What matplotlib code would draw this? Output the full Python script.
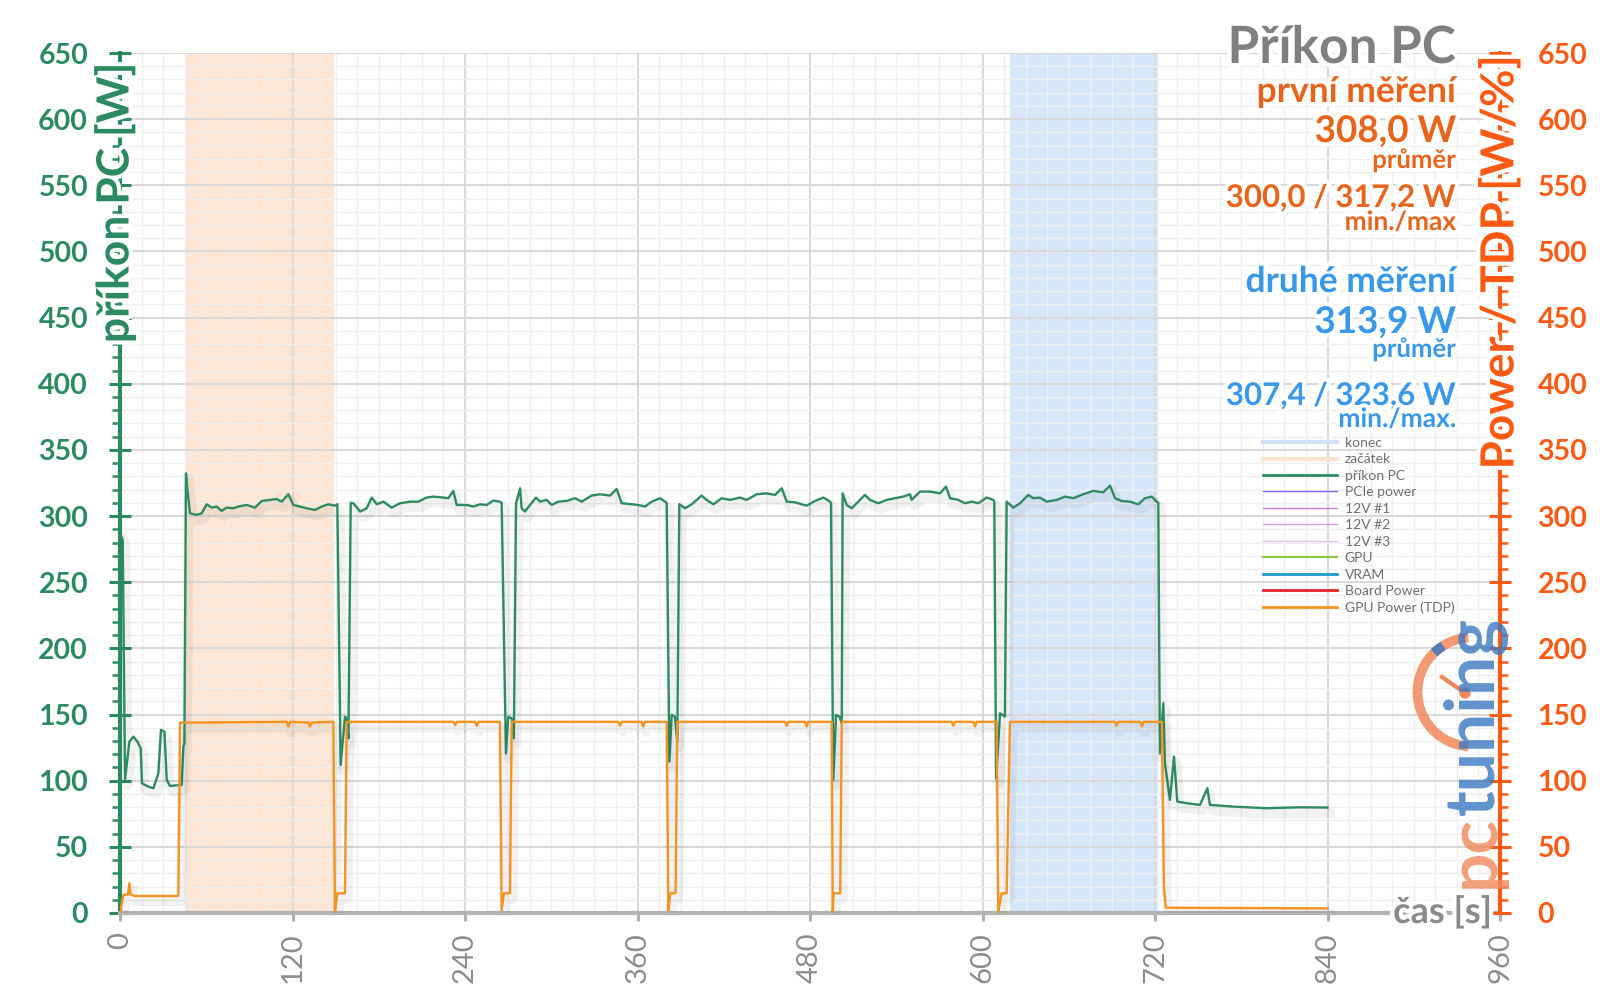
import matplotlib
matplotlib.use('Agg')
import matplotlib.pyplot as plt
import matplotlib.patheffects as pe
from matplotlib.patches import Arc, Circle
from matplotlib.lines import Line2D
from matplotlib.ticker import MultipleLocator

plt.rcParams['font.family'] = ['Lato', 'DejaVu Sans']

# příkon PC [W] (time in s)
pc_t = [0, 1.9, 3.5, 6.5, 9.3, 12.1, 14.4, 15.3, 19.7, 23.2, 26.7, 28.5, 30.9, 32.5, 34.8, 42.9, 44.1, 44.8,
        45.9, 46.9, 48.7, 53.3, 56.8, 60.3, 63.8, 67.2, 70.7, 74.2, 78.8, 82.3, 88.1, 93.9, 98.6, 104.3, 109,
        112.5, 117.1, 120.6, 125.2, 129.9, 135.7, 140.3, 144.9, 149.6, 151.2, 153.5, 156.5, 157.7, 158.9,
        160.5, 162.3, 167, 171.6, 175.1, 178.6, 183.2, 189, 194.8, 201.8, 207.5, 213.3, 218, 224.9, 228.4,
        231.9, 234.2, 241.2, 245.8, 250.5, 255.1, 259.7, 264.3, 265.5, 268.5, 270.1, 272.5, 274, 275.5,
        278.3, 279.4, 281.7, 285.2, 289.4, 292.2, 296.8, 300.3, 304.9, 310.7, 316.5, 321.2, 328.1, 333.9,
        340.9, 345.5, 349, 356, 360.6, 365.2, 369.9, 375.7, 379.1, 380.3, 382.2, 383.8, 386, 387.7, 389.1,
        393, 397.7, 404.6, 408.1, 412.8, 418.6, 424.4, 431.3, 436, 442.9, 449.9, 455.7, 460.3, 463.8,
        469.6, 474.2, 477.7, 483.5, 489.3, 493.9, 494.6, 496.2, 498.1, 500.5, 502.1, 502.7, 505.5, 509,
        513.6, 518.2, 521.7, 527.5, 533.3, 539.1, 544.9, 549.6, 550.7, 556.5, 563.5, 570.4, 574.6, 577.4,
        583.2, 587.8, 592.5, 597.1, 602.9, 607.5, 608.2, 609.5, 612.2, 615.6, 616.8, 621.4, 626.1, 631.9,
        635.4, 640, 644.6, 651.6, 657.4, 663.2, 670.1, 677.1, 684, 688.7, 692.2, 696.8, 702.6, 708.4, 713,
        717.7, 721.2, 722.3, 723.4, 725.8, 726.9, 730.4, 733.2, 735.5, 742, 751.3, 756.4, 758.2, 774.5,
        797.6, 820.8, 840]
pc_w = [287, 282, 100.6, 129.5, 133.3, 129.5, 124.5, 98, 95.5, 94.3, 105.6, 138.4, 137, 100.6, 96, 96.8, 125.8, 128,
        332.3, 320, 302.1, 300.9, 302.1, 308.9, 306.4, 307.2, 303.9, 306.4, 305.9, 307.2, 308.4, 306.4, 311.4,
        312.2, 312.9, 310.9, 316.5, 308.4, 307.2, 305.9, 304.6, 307.2, 308.9, 307.9, 309, 111.9, 148.4, 147,
        132, 310, 309.7, 303.4, 305.9, 314, 308.9, 310.9, 306.4, 309.7, 310.9, 310.9, 314, 314.7, 314, 313.5,
        319, 308.4, 308.4, 307.2, 308.9, 308.4, 311.7, 310.9, 310, 120.7, 148.4, 147, 132, 309.6,
        321, 305.9, 303.4, 308.4, 314, 310.9, 312.2, 308.4, 310.9, 311.4, 313.5, 310.9, 315.5, 316.5,
        315.5, 320.5, 309.7, 308.9, 308.4, 307.2, 310.9, 313.5, 310.9, 310, 114.4, 149.7, 148.4, 129.5, 309,
        305.9, 308.9, 315.5, 312.2, 308.9, 313.5, 312.2, 314, 312.2, 316.5, 317.2, 316, 321, 310.9,
        310.4, 308.9, 307.9, 311.4, 314, 310.9, 310, 100.6, 149.7, 148.4, 143.4, 317.2, 308.4, 305.9,
        310.9, 316, 312.2, 309.7, 312.2, 313.5, 314.7, 316.5, 312.2, 318.5, 318.5, 317.2, 322.3, 313.5,
        312.2, 309.7, 310.9, 309.7, 314, 312.2, 311, 101.8, 151, 148.4, 310.9, 306.4, 309.7, 316,
        313.5, 314, 310.9, 312.2, 314.7, 313.5, 316.5, 319, 318, 323, 313.5, 311.4, 310.9, 308.9, 313.5,
        314.7, 310.9, 310, 120.7, 158.5, 113, 85.5, 118.2, 84.2, 83, 81.7, 94.3, 81.7, 80.4,
        79.2, 79.9, 79.7]

# GPU Power (TDP) [W]
tdp_t = [0, 2.3, 5.5, 6.5, 7.4, 10, 40.6, 41.8, 116, 117.1, 118.5, 131, 132.2, 133.5, 148.4, 149.6, 151.2,
         156.5, 157.7, 232, 233.2, 234.5, 247, 248.2, 249.5, 264.3, 265.5, 267.1, 271.3, 272.5,
         346.6, 347.8, 349, 362.8, 364, 365.2, 380.3, 381.5, 382.8, 386.5, 387.7,
         462.6, 463.8, 465, 476.5, 477.7, 478.9, 495.1, 495.8, 496.5, 501, 502.1,
         578.5, 579.7, 580.9, 593.6, 594.8, 596, 609.8, 611, 613.3, 616.8, 619.1,
         692.1, 693.3, 694.5, 709.8, 711, 712.2, 724.8, 726.2, 727.5, 840]
tdp_w = [0, 13.6, 14, 22.5, 14, 12.9, 12.9, 143.9, 144.5, 141, 144.5, 144, 141, 144, 144.5, 1, 14.9,
         14.9, 144.5, 144.5, 142, 144.5, 144.5, 141.5, 144.5, 144.5, 2.3, 14.9, 14.9, 144.5,
         144.5, 141.5, 144.5, 144.5, 141, 144.5, 144.5, 2, 14.9, 14.9, 144.5,
         144.5, 141.5, 144.5, 144.5, 141, 144.5, 144.5, 1, 14.9, 14.9, 144.5,
         144.5, 141.5, 144.5, 144.5, 141, 144.5, 144.5, 0.5, 14.9, 14.9, 144.5,
         144.5, 141.5, 144.5, 144.5, 141, 144.5, 144.5, 20, 4, 3.5]

start_band = (45, 149)   # začátek
end_band = (619, 722)    # konec
x_ticks = [0, 120, 240, 360, 480, 600, 720, 840, 960]

GREEN = '#2b8a5f'
RED_OR = '#ff5a14'
TXT_OR = '#e8641b'
TXT_BL = '#3a98ea'
GRAY = '#808080'

fig = plt.figure(figsize=(16, 10.08), dpi=100)
ax = fig.add_axes([0.075, 0.09425, 0.8625, 0.85317])
ax2 = ax.twinx()

ax.axvspan(*start_band, color='#fde6d3', lw=0, zorder=0.2)
ax.axvspan(*end_band, color='#d7e7fa', lw=0, zorder=0.2)

shadow = [pe.SimpleLineShadow(offset=(2, -4), shadow_color='black', alpha=0.05, linewidth=7), pe.Normal()]
ax.plot(pc_t, pc_w, color='#2e8b62', lw=1.7, zorder=3, path_effects=shadow)
ax.plot(tdp_t, tdp_w, color='#f5931f', lw=1.7, zorder=4, path_effects=shadow)

ax.set_xlim(0, 960)
ax.set_ylim(0, 650)
ax2.set_ylim(0, 650)
ax.set_xticks(x_ticks)
ax.set_xticklabels([str(v) for v in x_ticks], rotation=90)
ax.xaxis.set_minor_locator(MultipleLocator(15))
for a in (ax, ax2):
    a.yaxis.set_major_locator(MultipleLocator(50))
    a.yaxis.set_minor_locator(MultipleLocator(10))

ax.set_axisbelow(True)
ax.grid(which='major', color='#d9d9d9', lw=1.5, zorder=0.5)
ax.grid(which='minor', color='#efefef', lw=1.0, zorder=0.5)

ax.tick_params(axis='x', which='major', direction='out', length=6, width=2.2, color='#b0b0b0',
               labelsize=21, labelcolor='#8c8c8c', pad=8)
ax.tick_params(axis='x', which='minor', length=0)
ax.tick_params(axis='y', which='major', direction='inout', length=16, width=2.2, color=GREEN,
               labelsize=20.5, labelcolor=GREEN, pad=15)
ax.tick_params(axis='y', which='minor', direction='out', length=6, width=1.8, color=GREEN)
ax2.tick_params(axis='y', which='major', direction='inout', length=16, width=2.2, color=RED_OR,
                labelsize=20.5, labelcolor=RED_OR, pad=19)
ax2.tick_params(axis='y', which='minor', direction='out', length=6, width=1.8, color=RED_OR)
for lab in ax.get_yticklabels() + ax2.get_yticklabels():
    lab.set_fontweight('bold')

for s in ('top', 'right'):
    ax.spines[s].set_visible(False)
for s in ('top', 'left', 'bottom'):
    ax2.spines[s].set_visible(False)
ax.spines['left'].set_color(GREEN)
ax.spines['left'].set_linewidth(3)
ax.spines['bottom'].set_color('#b3b3b3')
ax.spines['bottom'].set_linewidth(3)
ax2.spines['right'].set_color(RED_OR)
ax2.spines['right'].set_linewidth(3)

glow = [pe.withStroke(linewidth=6, foreground='white')]

# legend
leg_handles = [
    Line2D([], [], color='#cfe2f6', lw=3, label='konec'),
    Line2D([], [], color='#fde3cc', lw=3, label='začátek'),
    Line2D([], [], color='#2e8b62', lw=2, label='příkon PC'),
    Line2D([], [], color='#7b68ee', lw=1, label='PCIe power'),
    Line2D([], [], color='#c77dd8', lw=1, label='12V #1'),
    Line2D([], [], color='#d89ae3', lw=1, label='12V #2'),
    Line2D([], [], color='#e8c0f0', lw=1, label='12V #3'),
    Line2D([], [], color='#8cc63e', lw=1.5, label='GPU'),
    Line2D([], [], color='#1f9bc9', lw=2, label='VRAM'),
    Line2D([], [], color='#e8202a', lw=2, label='Board Power'),
    Line2D([], [], color='#f5931f', lw=2, label='GPU Power (TDP)'),
]
ax2.legend(handles=leg_handles, loc='upper left', bbox_to_anchor=(1263 / 1600, 1 - 437 / 1008),
           bbox_transform=fig.transFigure, frameon=False, fontsize=10, labelcolor='#6e6e6e',
           handlelength=5.3, handletextpad=0.58, labelspacing=0.32, borderpad=0, borderaxespad=0)

# axis labels
fig.text(115 / 1600, 1 - 62 / 1008, 'příkon PC [W]', rotation=90, ha='center', va='top',
         fontsize=32, fontweight='bold', color=GREEN, path_effects=glow)
fig.text(1500 / 1600, 1 - 55 / 1008, 'Power / TDP [W/%]', rotation=90, ha='center', va='top',
         fontsize=33, fontweight='bold', color=RED_OR, path_effects=glow)
fig.text(1492 / 1600, 1 - 923 / 1008, 'čas [s]', ha='right', va='baseline',
         fontsize=26, fontweight='bold', color='#8a8a8a', path_effects=glow)

# logo
logo_x, logo_y = 1494 / 1600, 1 - 815 / 1008
fig.text(logo_x, logo_y, 'pc', rotation=90, rotation_mode='anchor', ha='right', va='baseline',
         fontsize=50, fontweight='bold', color='#f0895a', alpha=0.8)
fig.text(logo_x, logo_y, 'tuning', rotation=90, rotation_mode='anchor', ha='left', va='baseline',
         fontsize=50, fontweight='bold', color='#3a78c0', alpha=0.8)
fig.add_artist(Arc((14.72, 3.16), 1.09, 1.09, theta1=94, theta2=266, transform=fig.dpi_scale_trans,
                   color='#f0895a', lw=7, alpha=0.85))
fig.add_artist(Arc((14.72, 3.16), 1.09, 1.09, theta1=122, theta2=134, transform=fig.dpi_scale_trans,
                   color='#3a78c0', lw=7, alpha=0.85))
fig.add_artist(Line2D([14.42, 14.65], [3.31, 3.15], transform=fig.dpi_scale_trans, color='#f0895a', lw=3))
fig.add_artist(Circle((14.65, 3.15), 0.05, transform=fig.dpi_scale_trans, color='#f0895a'))

# title and measurement summary
right_x = 1456 / 1600
summary = [
    (63, 'Příkon PC', 37, GRAY),
    (102, 'první měření', 25.5, TXT_OR),
    (142, '308,0 W', 26.5, TXT_OR),
    (168, 'průměr', 18.5, TXT_OR),
    (207, '300,0 / 317,2 W', 22.5, TXT_OR),
    (230, 'min./max', 19, TXT_OR),
    (292, 'druhé měření', 25.5, TXT_BL),
    (333, '313,9 W', 26.5, TXT_BL),
    (357, 'průměr', 18.5, TXT_BL),
    (405, '307,4 / 323,6 W', 22.5, TXT_BL),
    (427, 'min./max.', 19, TXT_BL),
]
for y_px, s, size, col in summary:
    fig.text(right_x, 1 - y_px / 1008, s, ha='right', va='baseline', fontsize=size,
             fontweight='bold', color=col, path_effects=glow, zorder=10)

fig.savefig('out.png', dpi=100)
